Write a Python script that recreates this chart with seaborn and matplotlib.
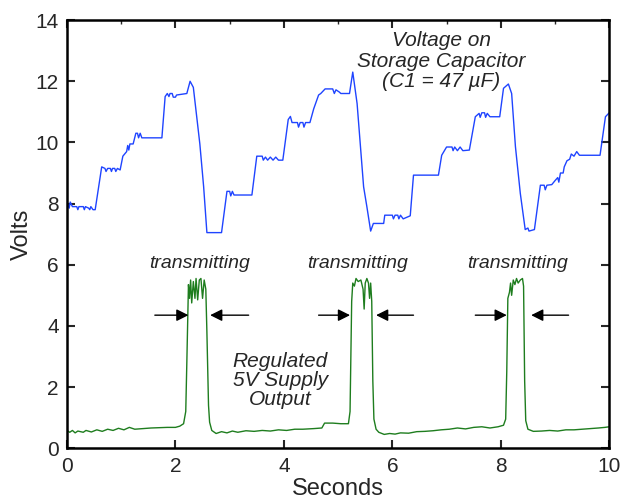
import numpy as np
import pandas as pd
import matplotlib
matplotlib.use('Agg')
import matplotlib.pyplot as plt
import seaborn as sns

# Напряжение на накопительном конденсаторе (секунды, вольты)
cap_t = [0.00, 0.04, 0.06, 0.10, 0.18, 0.20, 0.22, 0.30, 0.32, 0.34, 0.40, 0.42, 0.44, 0.48, 0.52,
         0.64, 0.70, 0.72, 0.75, 0.80, 0.82, 0.84, 0.88, 0.90, 0.93, 0.98,
         1.03, 1.10, 1.12, 1.14, 1.16, 1.22, 1.27, 1.30, 1.32, 1.35, 1.38, 1.75,
         1.81, 1.85, 1.88, 1.90, 1.94, 1.96, 2.00, 2.02, 2.21, 2.27, 2.33, 2.45, 2.52, 2.58,
         2.85, 2.95, 3.00, 3.02, 3.05, 3.08, 3.41,
         3.50, 3.60, 3.62, 3.66, 3.70, 3.75, 3.80, 3.85, 3.90, 3.98,
         4.08, 4.12, 4.15, 4.25, 4.27, 4.30, 4.35, 4.37, 4.40, 4.48,
         4.55, 4.64, 4.68, 4.76, 4.90, 4.93, 4.96, 5.02, 5.05, 5.21, 5.27, 5.35, 5.47, 5.53, 5.60, 5.65,
         5.84, 5.86, 6.00, 6.02, 6.05, 6.10, 6.12, 6.15, 6.20, 6.33,
         6.39, 6.85, 6.91, 7.00, 7.10, 7.12, 7.15, 7.20, 7.25, 7.30, 7.42,
         7.53, 7.60, 7.62, 7.65, 7.70, 7.72, 7.75, 7.80, 7.98,
         8.05, 8.14, 8.20, 8.27, 8.36, 8.45, 8.50, 8.52, 8.62,
         8.73, 8.80, 8.82, 8.85, 8.94, 9.00, 9.05, 9.07, 9.10, 9.15, 9.17, 9.22, 9.27, 9.30, 9.35,
         9.40, 9.45, 9.83, 9.93, 10.00]
cap_v = [8.05, 7.85, 8.05, 7.90, 7.90, 7.80, 7.90, 7.90, 7.80, 7.90, 7.85, 7.80, 7.90, 7.80, 7.80,
         9.20, 9.15, 9.05, 9.15, 9.15, 9.05, 9.15, 9.15, 9.05, 9.15, 9.10,
         9.55, 9.70, 9.90, 9.75, 9.95, 9.95, 10.30, 10.30, 10.15, 10.30, 10.15, 10.15,
         11.50, 11.60, 11.50, 11.60, 11.60, 11.48, 11.48, 11.55, 11.60, 12.00, 11.80, 9.95, 8.55, 7.05,
         7.05, 8.40, 8.40, 8.25, 8.40, 8.28, 8.28,
         9.55, 9.55, 9.42, 9.52, 9.42, 9.52, 9.42, 9.52, 9.42, 9.42,
         10.75, 10.85, 10.65, 10.65, 10.50, 10.65, 10.65, 10.50, 10.65, 10.65,
         11.10, 11.55, 11.60, 11.75, 11.75, 11.60, 11.72, 11.65, 11.60, 11.60, 12.30, 11.27, 8.55, 7.90, 7.10, 7.35,
         7.35, 7.62, 7.62, 7.50, 7.62, 7.62, 7.50, 7.62, 7.50, 7.60,
         8.93, 8.93, 9.58, 9.85, 9.85, 9.73, 9.85, 9.73, 9.85, 9.73, 9.75,
         10.84, 10.95, 10.82, 10.97, 10.97, 10.82, 10.95, 10.84, 10.84,
         11.77, 11.91, 11.60, 9.86, 8.33, 7.15, 7.20, 7.10, 7.15,
         8.60, 8.60, 8.45, 8.60, 8.62, 8.75, 8.85, 8.70, 9.00, 9.00, 9.20, 9.40, 9.45, 9.62, 9.55,
         9.70, 9.58, 9.58, 10.84, 10.97]

# Выход стабилизатора 5 В
reg_t = [0.00, 0.05, 0.10, 0.15, 0.20, 0.30, 0.35, 0.45, 0.55, 0.65, 0.75, 0.85, 0.95, 1.05, 1.15,
         1.25, 1.40, 1.55, 1.70, 1.85, 2.00, 2.08, 2.15, 2.19, 2.21,
         2.24, 2.26, 2.28, 2.30, 2.33, 2.36, 2.38, 2.41, 2.44, 2.47, 2.50, 2.53, 2.56, 2.58, 2.61, 2.63,
         2.67, 2.75, 2.85, 2.95, 3.05, 3.15, 3.30, 3.45, 3.60, 3.75, 3.90, 4.05, 4.20, 4.35, 4.55,
         4.70, 4.75, 4.90, 5.05, 5.19, 5.22,
         5.25, 5.27, 5.30, 5.33, 5.37, 5.42, 5.46, 5.48, 5.50, 5.53, 5.56, 5.58, 5.60, 5.62, 5.64, 5.66,
         5.70, 5.75, 5.85, 5.95, 6.05, 6.15, 6.30, 6.45, 6.60, 6.75, 6.90, 7.05, 7.20, 7.35, 7.50,
         7.65, 7.80, 7.95, 8.05, 8.09, 8.11,
         8.13, 8.16, 8.18, 8.20, 8.23, 8.26, 8.29, 8.32, 8.36, 8.40, 8.42, 8.44, 8.46,
         8.50, 8.60, 8.75, 8.90, 9.05, 9.20, 9.35, 9.50, 9.65, 9.80, 9.92, 10.00]
reg_v = [0.58, 0.52, 0.58, 0.50, 0.56, 0.52, 0.58, 0.53, 0.60, 0.55, 0.62, 0.58, 0.65, 0.60, 0.68,
         0.62, 0.64, 0.66, 0.67, 0.68, 0.68, 0.72, 0.80, 1.20, 2.80,
         5.35, 4.90, 5.50, 4.75, 5.45, 4.90, 5.55, 4.85, 5.50, 5.55, 4.90, 5.50, 5.20, 3.80, 1.40, 0.85,
         0.58, 0.48, 0.54, 0.50, 0.56, 0.52, 0.57, 0.55, 0.58, 0.56, 0.60, 0.58, 0.62, 0.62, 0.64,
         0.66, 0.82, 0.82, 0.80, 0.80, 1.20,
         4.80, 5.40, 5.30, 5.55, 5.45, 5.50, 5.20, 4.55, 5.40, 5.55, 5.40, 4.90, 5.40, 4.80, 2.20, 0.95,
         0.62, 0.52, 0.45, 0.48, 0.46, 0.50, 0.49, 0.54, 0.55, 0.57, 0.60, 0.62, 0.66, 0.63, 0.68,
         0.70, 0.66, 0.70, 0.75, 0.95, 2.50,
         4.90, 5.10, 5.40, 5.00, 5.50, 5.35, 5.55, 5.40, 5.50, 5.55, 5.30, 2.20, 0.90,
         0.62, 0.55, 0.56, 0.58, 0.56, 0.60, 0.60, 0.62, 0.64, 0.66, 0.68, 0.70]

# Стрелки "transmitting": (начало, конец)
arrow_pairs = [(1.62, 2.24), (3.35, 2.64), (4.64, 5.22), (6.39, 5.70), (7.53, 8.11), (9.25, 8.56)]
arrow_y = 4.35
tx_labels_x = [2.45, 5.35, 8.30]

sns.set_style('ticks')
plt.rcParams['font.family'] = ['Liberation Sans', 'DejaVu Sans']

fig = plt.figure(figsize=(6.32, 5.03), dpi=100)
ax = fig.add_axes([0.106, 0.109, 0.858, 0.851])

cap = pd.DataFrame({'t': cap_t, 'v': cap_v})
reg = pd.DataFrame({'t': reg_t, 'v': reg_v})
sns.lineplot(data=cap, x='t', y='v', sort=False, estimator=None, color='#1f44ff', lw=1.0, ax=ax)
sns.lineplot(data=reg, x='t', y='v', sort=False, estimator=None, color='#1e7d1e', lw=1.0, ax=ax)

for start, end in arrow_pairs:
    ax.annotate('', xy=(end, arrow_y), xytext=(start, arrow_y),
                arrowprops=dict(arrowstyle='-|>', color='black', lw=1.0,
                                mutation_scale=18, shrinkA=0, shrinkB=0))

for x in tx_labels_x:
    ax.text(x, 6.05, 'transmitting', style='italic', fontsize=14, ha='center', va='center')

ax.text(6.9, 12.66, 'Voltage on\nStorage Capacitor\n(C1 = 47 µF)', style='italic', fontsize=15,
        ha='center', va='center', linespacing=1.12)
ax.text(3.93, 2.22, 'Regulated\n5V Supply\nOutput', style='italic', fontsize=15,
        ha='center', va='center', linespacing=1.0)

ax.set_xlim(0, 10)
ax.set_ylim(0, 14)
ax.set_xticks(np.arange(0, 11, 2))
ax.set_xticks(np.arange(1, 10, 2), minor=True)
ax.set_yticks(np.arange(0, 15, 2))
ax.set_xlabel('Seconds', fontsize=17, labelpad=2)
ax.set_ylabel('Volts', fontsize=17, labelpad=2)
ax.tick_params(which='major', direction='in', length=6, width=1.5, labelsize=15,
               top=True, right=True, pad=6)
ax.tick_params(which='minor', direction='in', length=3, width=1.0, top=True, bottom=False)
for s in ax.spines.values():
    s.set_linewidth(1.8)
    s.set_color('black')

fig.savefig('out.png', dpi=100)
